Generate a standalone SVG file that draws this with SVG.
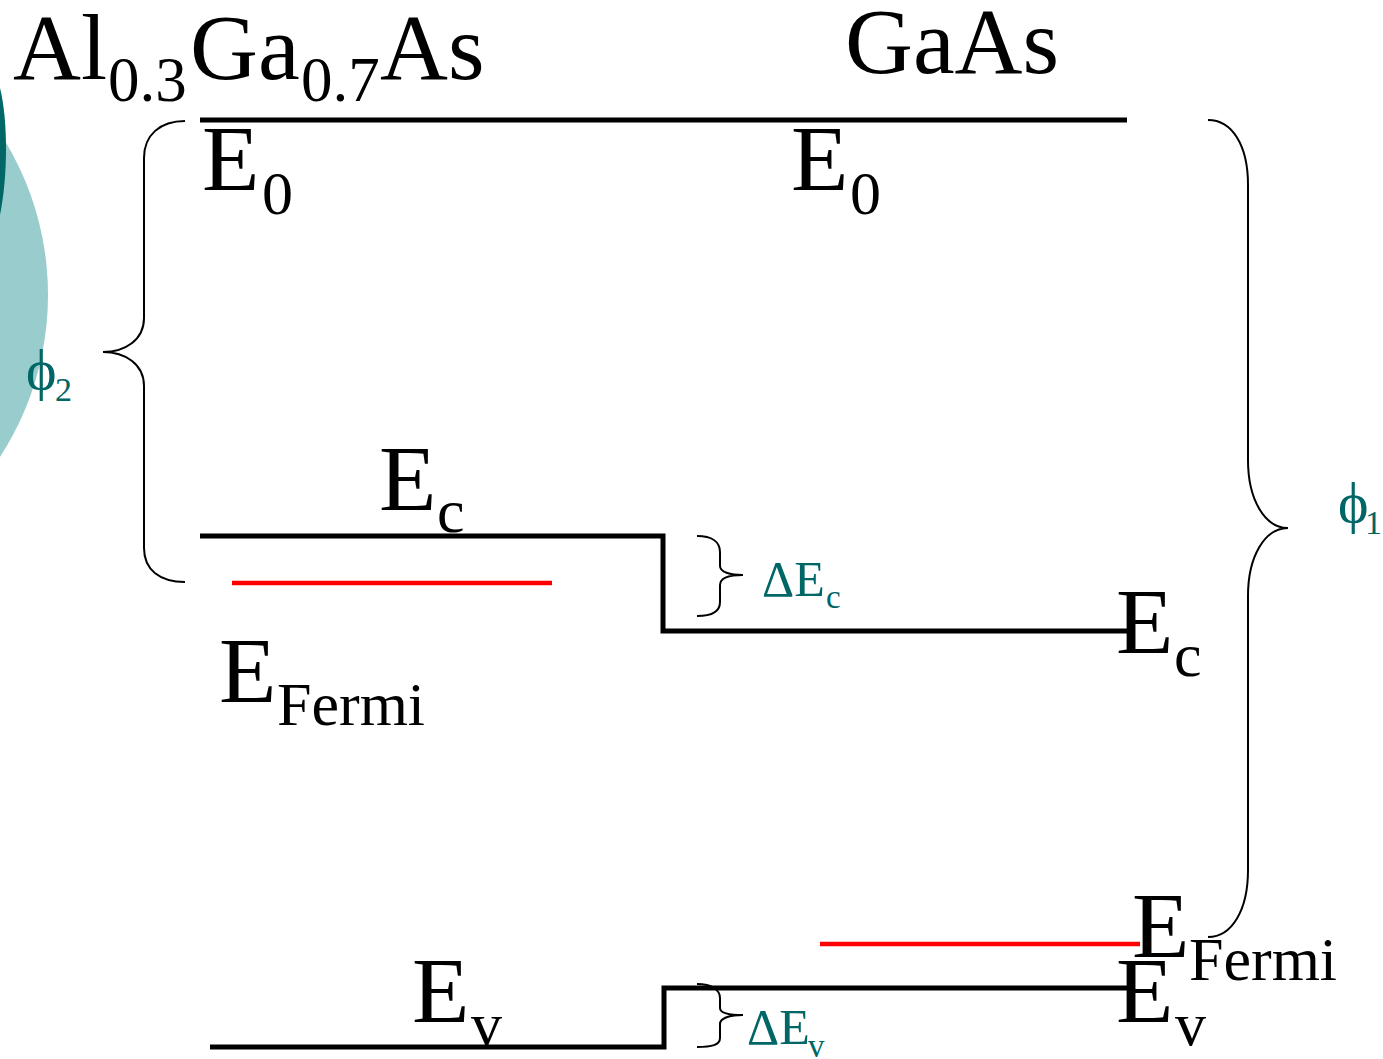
<svg xmlns="http://www.w3.org/2000/svg" width="1383" height="1059" viewBox="0 0 1383 1059">
<style>
.t{font-family:"Liberation Serif","DejaVu Serif",serif;fill:#000}
.g{font-family:"Liberation Serif","DejaVu Serif",serif;fill:#006666}
.band{fill:none;stroke:#000;stroke-width:5;stroke-linejoin:miter}
.fermi{fill:none;stroke:#ff0000;stroke-width:4.5}
.brace{fill:none;stroke:#000;stroke-width:2}
</style>
<rect width="1383" height="1059" fill="#fff"/>
<g id="decor">
<circle cx="-249" cy="295" r="297" fill="#99cccc"/>
<path d="M0,88 C8,120 8,175 0,215 Z" fill="#006666"/>
</g>
<g id="connectors">
<line class="band" x1="200" y1="120" x2="1127" y2="120"/>
<path class="band" d="M200,536 L663,536 L663,631 L1127,631"/>
<path class="band" d="M210,1047 L664,1047 L664,988 L1127,988"/>
<line class="fermi" x1="232" y1="583" x2="552" y2="583"/>
<line class="fermi" x1="820" y1="944" x2="1140" y2="944"/>
<path class="brace" d="M185,121 C160,121 144,135 144,158 L144,318 C144,340 125,352 103,352 C125,352 144,364 144,386 L144,548 C144,570 160,582 185,582"/>
<path class="brace" d="M1208,120 C1232,120 1248,145 1248,185 L1248,460 C1248,500 1265,528 1288,528 C1265,528 1248,556 1248,596 L1248,870 C1248,910 1232,937 1208,937"/>
<path class="brace" d="M697,536 C712,536 720,542 720,552 L720,566 C720,572 730,575 743,575 C730,575 720,578 720,585 L720,602 C720,611 712,616 697,616"/>
<path class="brace" d="M697,984 C712,984 720,990 720,998 L720,1008 C720,1013 730,1015 743,1015 C730,1015 720,1018 720,1024 L720,1038 C720,1045 712,1047 697,1047"/>
</g>
<g id="title-algaas">
<text class="t"><tspan x="13" y="79" font-size="94">Al</tspan><tspan x="108" y="101" font-size="63">0.3</tspan><tspan x="190" y="79" font-size="94">Ga</tspan><tspan x="301" y="101" font-size="63">0.7</tspan><tspan x="380" y="79" font-size="94">As</tspan></text>
</g>
<g id="title-gaas">
<text class="t" x="845" y="73" font-size="94">GaAs</text>
</g>
<g id="e0-left"><text class="t"><tspan x="202" y="190" font-size="94">E</tspan><tspan x="262" y="214" font-size="62">0</tspan></text></g>
<g id="e0-right"><text class="t"><tspan x="791" y="190" font-size="94">E</tspan><tspan x="850" y="214" font-size="62">0</tspan></text></g>
<g id="ec-left"><text class="t"><tspan x="379" y="510" font-size="94">E</tspan><tspan x="437" y="532" font-size="62">c</tspan></text></g>
<g id="efermi-left"><text class="t"><tspan x="219" y="702" font-size="94">E</tspan><tspan x="277" y="725" font-size="62">Fermi</tspan></text></g>
<g id="ec-right"><text class="t"><tspan x="1116" y="653" font-size="94">E</tspan><tspan x="1174" y="676" font-size="62">c</tspan></text></g>
<g id="ev-left"><text class="t"><tspan x="412" y="1022" font-size="94">E</tspan><tspan x="471" y="1045" font-size="62">v</tspan></text></g>
<g id="efermi-right"><text class="t"><tspan x="1132" y="957" font-size="94">E</tspan><tspan x="1189" y="980" font-size="62">Fermi</tspan></text></g>
<g id="ev-right"><text class="t"><tspan x="1116" y="1022" font-size="94">E</tspan><tspan x="1175" y="1045" font-size="62">v</tspan></text></g>
<g id="delta-ec"><text class="g"><tspan x="762" y="596" font-size="50">ΔE</tspan><tspan x="826" y="608" font-size="33">c</tspan></text></g>
<g id="delta-ev"><text class="g"><tspan x="747" y="1044" font-size="50">ΔE</tspan><tspan x="808" y="1057" font-size="33">v</tspan></text></g>
<g id="phi2"><text class="g"><tspan x="26" y="389" font-size="58">ϕ</tspan><tspan x="55" y="401" font-size="34">2</tspan></text></g>
<g id="phi1"><text class="g"><tspan x="1338" y="522" font-size="58">ϕ</tspan><tspan x="1365" y="534" font-size="34">1</tspan></text></g>
</svg>
